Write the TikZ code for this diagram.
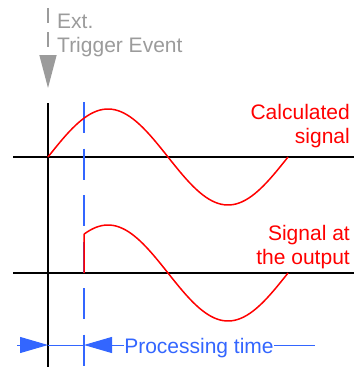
\documentclass[tikz,border=0pt]{standalone}
\usepackage{fontspec}
\setmainfont{Liberation Sans}
\usetikzlibrary{arrows.meta,positioning}
\definecolor{sigred}{RGB}{255,0,0}
\definecolor{procblue}{RGB}{51,102,255}
\definecolor{triggray}{RGB}{155,155,155}

\begin{document}
\begin{tikzpicture}[x=1pt,y=-1pt,
  axis/.style={line width=1.5pt, black},
  signal/.style={line width=1.5pt, sigred},
  marker/.style={line width=1.5pt, procblue, dash pattern=on 31pt off 15.5pt},
  trigger/.style={line width=1.5pt, triggray, dash pattern=on 15pt off 9pt,
    -{Triangle[length=33pt,width=17pt]}},
  dimtip/.style={line width=1pt, procblue},
  label/.style={font=\fontsize{21}{24}\selectfont, inner sep=0pt}
]
  \useasboundingbox (0,0) rectangle (354,367);

  % axes
  \coordinate (tzero) at (48,103);
  \coordinate (tbot) at (48,367);
  \coordinate (calcL) at (13,157);
  \coordinate (calcR) at (354,157);
  \coordinate (outL) at (13,273);
  \coordinate (outR) at (354,273);
  \draw[axis] (tzero) -- (tbot);
  \draw[axis] (calcL) -- (calcR);
  \draw[axis] (outL) -- (outR);

  % external trigger
  \coordinate (trigtop) at (48,8);
  \coordinate (trigtip) at (48,88);
  \draw[trigger] (trigtop) -- (trigtip);
  \node[label, triggray, anchor=base west, align=left] (trigtxt) at (57,52)
    {Ext.\\Trigger Event};

  % processing time marker
  \coordinate (proctop) at (84,102);
  \coordinate (procbot) at (84,367);
  \draw[marker] (proctop) -- (procbot);

  % signals
  \draw[signal] plot[domain=48:288, samples=80, smooth]
    (\x, {157-48*sin(1.5*(\x-48))});
  \coordinate (jumpfoot) at (84,273);
  \coordinate (jumptop) at (84, {273-48*sin(1.5*36)});
  \draw[signal] (jumpfoot) -- (jumptop)
    plot[domain=84:288, samples=70, smooth] (\x, {273-48*sin(1.5*(\x-48))});

  \node[label, sigred, anchor=base east, align=right] (calctxt) at (350,143)
    {Calculated\\signal};
  \node[label, sigred, anchor=base east, align=right] (outtxt) at (350,264)
    {Signal at\\the output};

  % dimension line
  \coordinate (dimL) at (17,345);
  \coordinate (dimA) at (48,345);
  \coordinate (dimB) at (84,345);
  \coordinate (dimR) at (315,345);
  \node[label, procblue, anchor=base] (proctxt) at (199,353) {Processing time};
  \draw[dimtip, -{Triangle[length=28pt,width=16pt]}] (dimL) -- (dimA);
  \draw[dimtip] (dimA) -- (dimB);
  \draw[dimtip, {Triangle[length=28pt,width=16pt]}-] (dimB) -- (proctxt.west |- dimB);
  \draw[dimtip] (proctxt.east |- dimB) -- (dimR);
\end{tikzpicture}
\end{document}
